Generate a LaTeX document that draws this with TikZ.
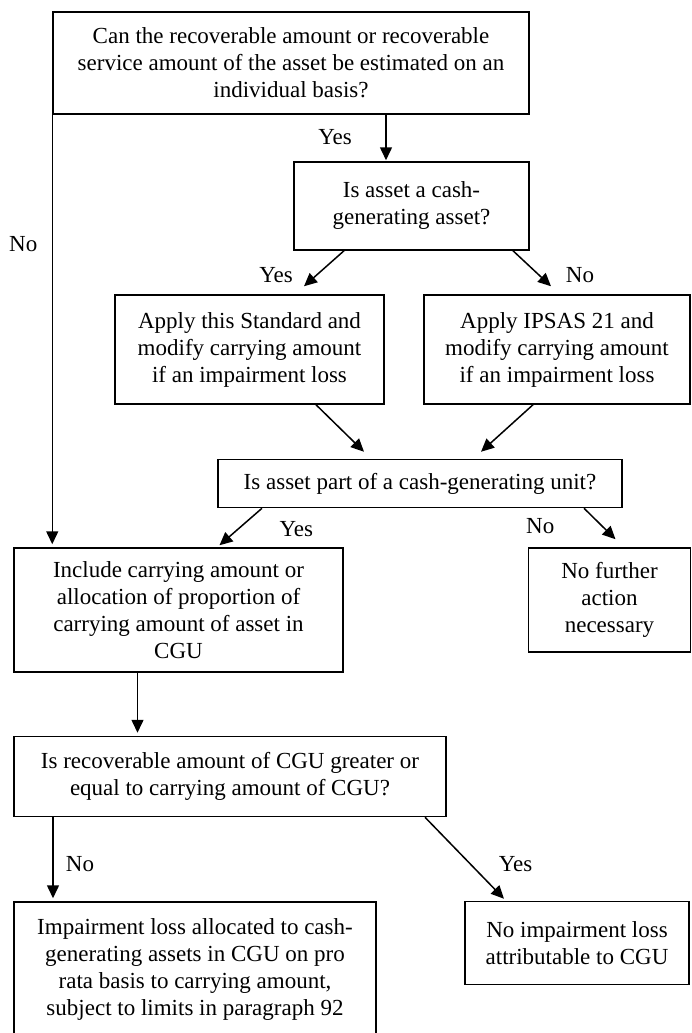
\documentclass[tikz,border=0pt]{standalone}
\usepackage{fontspec}
\setmainfont{Liberation Serif}
\usetikzlibrary{shapes.geometric, arrows.meta}
\tikzstyle{question} = [
    rectangle,
    align = center,
    inner sep = 0pt,
    draw = black,
    line width = 1.5pt,
    font = \fontsize{23}{27}\selectfont
]
\tikzstyle{outcome} = [
    rectangle,
    align = center,
    inner sep = 0pt,
    draw = black,
    line width = 1.5pt,
    font = \fontsize{23}{27}\selectfont
]
\tikzstyle{answer} = [font = \fontsize{23}{27}\selectfont]
\tikzstyle{arrow} = [line width = 1.5pt, -{Triangle[length = 13pt, width = 12pt]}]

\begin{document}
\begin{tikzpicture}[node distance = 100pt]
    \useasboundingbox (0pt,0pt) rectangle (691pt,-1033pt);

    \node (individual)
        [question, minimum width = 476pt, minimum height = 102pt]
        at (291pt,-63pt)
        {Can the recoverable amount or recoverable\\
         service amount of the asset be estimated on an\\
         individual basis?};

    \node (cash asset)
        [
            question, below of = individual,
            minimum width = 235pt, minimum height = 88pt,
            xshift = 120.5pt, yshift = -43pt
        ]
        {Is asset a cash-\\generating asset?};

    \draw [arrow]
        ([xshift = 95pt]individual.south) --
        node[answer, xshift = -51pt] (yes individual) {Yes}
        ([xshift = 95pt, yshift = 1pt]individual.south |- cash asset.north);

    \node (this standard)
        [
            outcome, below of = cash asset,
            minimum width = 269pt, minimum height = 109pt,
            xshift = -162pt, yshift = -43.5pt
        ]
        {Apply this Standard and\\modify carrying amount\\if an impairment loss};

    \node (ipsas)
        [
            outcome, right of = this standard,
            minimum width = 266pt, minimum height = 109pt,
            xshift = 207.5pt
        ]
        {Apply IPSAS 21 and\\modify carrying amount\\if an impairment loss};

    \draw [arrow]
        ([xshift = -67.5pt]cash asset.south) --
        node[answer, xshift = -48pt, yshift = -6.5pt] (yes cash) {Yes}
        ([xshift = 54.5pt, yshift = 8pt]this standard.north);

    \draw [arrow]
        ([xshift = 101.5pt]cash asset.south) --
        node[answer, xshift = 48pt, yshift = -6.5pt] (no cash) {No}
        ([xshift = -6pt, yshift = 8pt]ipsas.north);

    \node (part of cgu)
        [
            question, below of = this standard,
            minimum width = 404pt, minimum height = 48pt,
            xshift = 170.5pt, yshift = -34pt
        ]
        {Is asset part of a cash-generating unit?};

    \draw [arrow]
        ([xshift = 66.5pt]this standard.south) --
        ([xshift = -56pt, yshift = 7pt]part of cgu.north);

    \draw [arrow]
        ([xshift = -24pt]ipsas.south) --
        ([xshift = 61pt, yshift = 7pt]part of cgu.north);

    \node (include)
        [
            outcome, below of = part of cgu,
            minimum width = 329pt, minimum height = 124pt,
            xshift = -241.5pt, yshift = -26.5pt
        ]
        {Include carrying amount or\\allocation of proportion of\\
         carrying amount of asset in\\CGU};

    \node (no action)
        [
            outcome, right of = include,
            minimum width = 162pt, minimum height = 104pt,
            xshift = 331pt, yshift = 10pt
        ]
        {No further\\action\\necessary};

    \draw [arrow]
        ([xshift = -158pt]part of cgu.south) --
        node[answer, xshift = 55.5pt, yshift = -2.5pt] (yes cgu) {Yes}
        ([xshift = 41pt, yshift = 2pt]include.north);

    \draw [arrow]
        ([xshift = 164pt]part of cgu.south) --
        node[answer, xshift = -59.5pt, yshift = -2.5pt] (no cgu) {No}
        ([xshift = 6pt, yshift = 8pt]no action.north);

    \draw [arrow]
        (individual.south west) --
        node[answer, pos = 0.3, xshift = -29pt] (no individual) {No}
        ([yshift = 3pt]individual.south west |- include.north);

    \node (greater)
        [
            question, below of = include,
            minimum width = 432pt, minimum height = 80pt,
            xshift = 51.5pt, yshift = -66.5pt
        ]
        {Is recoverable amount of CGU greater or\\
         equal to carrying amount of CGU?};

    \draw [arrow]
        ([xshift = -41pt]include.south) --
        ([xshift = -41pt, yshift = 3pt]include.south |- greater.north);

    \node (impairment)
        [
            outcome, below of = greater,
            minimum width = 362pt, minimum height = 135pt,
            xshift = -35pt, yshift = -93pt
        ]
        {Impairment loss allocated to cash-\\
         generating assets in CGU on pro\\
         rata basis to carrying amount,\\
         subject to limits in paragraph 92};

    \node (no impairment)
        [
            outcome, right of = impairment,
            minimum width = 224pt, minimum height = 83pt,
            xshift = 282pt, yshift = 26.5pt
        ]
        {No impairment loss\\attributable to CGU};

    \draw [arrow]
        ([xshift = -177pt]greater.south) --
        node[answer, xshift = 27pt, yshift = -6pt] (no greater) {No}
        ([xshift = -177pt, yshift = 3pt]greater.south |- impairment.north);

    \draw [arrow]
        ([xshift = 195pt]greater.south) --
        node[answer, xshift = 51pt, yshift = -6.5pt] (yes greater) {Yes}
        ([xshift = -73pt, yshift = 2pt]no impairment.north);

\end{tikzpicture}
\end{document}
